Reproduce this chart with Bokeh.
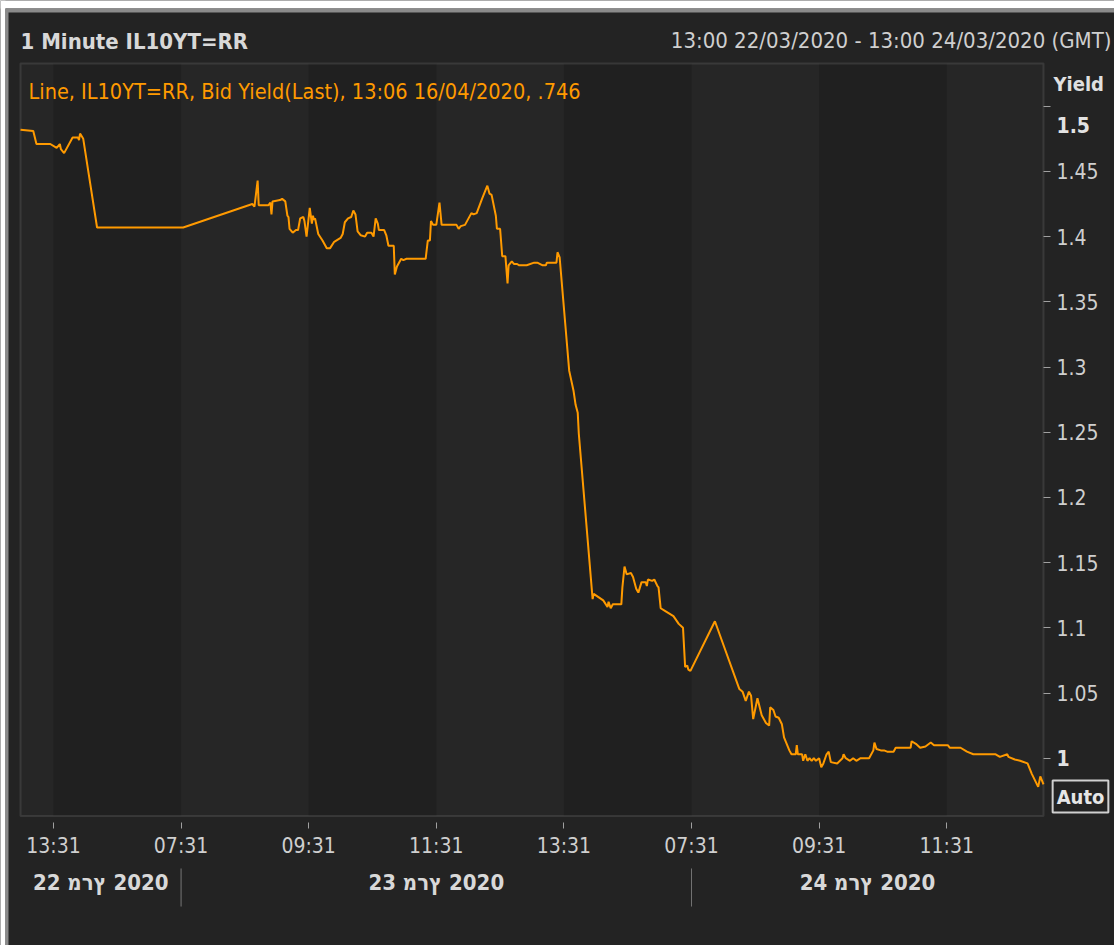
from bokeh.plotting import figure
from bokeh.models import Range1d, LinearAxis, FixedTicker, Label, BoxAnnotation
from bokeh.embed import file_html
from bokeh.resources import INLINE

# ---------------- data ----------------
stamps = [
    "22 13:00", "22 13:12", "22 13:15", "22 13:28", "22 13:34", "22 13:37", "22 13:38", "22 13:41",
    "22 13:49", "22 13:54", "22 13:55", "22 13:56", "22 13:59", "22 14:12",
    "23 07:33", "23 08:38", "23 08:40", "23 08:43", "23 08:44", "23 08:53", "23 08:55", "23 08:56",
    "23 08:57", "23 09:04", "23 09:06", "23 09:09", "23 09:11", "23 09:12", "23 09:13", "23 09:16",
    "23 09:19", "23 09:21", "23 09:23", "23 09:26", "23 09:27", "23 09:29", "23 09:32", "23 09:34",
    "23 09:35", "23 09:36", "23 09:37", "23 09:40", "23 09:44", "23 09:48", "23 09:51", "23 09:55",
    "23 10:01", "23 10:03", "23 10:05", "23 10:08", "23 10:11", "23 10:13", "23 10:15", "23 10:17",
    "23 10:20", "23 10:24", "23 10:26", "23 10:30", "23 10:32", "23 10:34", "23 10:36", "23 10:37",
    "23 10:42", "23 10:44", "23 10:46", "23 10:51", "23 10:52", "23 10:54", "23 10:58", "23 11:00",
    "23 11:03", "23 11:21", "23 11:23", "23 11:25", "23 11:26", "23 11:28", "23 11:31", "23 11:34",
    "23 11:36", "23 11:50", "23 11:52", "23 11:54", "23 11:58", "23 12:04", "23 12:06", "23 12:09",
    "23 12:14", "23 12:19", "23 12:21", "23 12:23", "23 12:27", "23 12:28", "23 12:31", "23 12:33",
    "23 12:36", "23 12:38", "23 12:39", "23 12:42", "23 12:44", "23 12:47", "23 12:49", "23 12:56",
    "23 13:03", "23 13:06", "23 13:11", "23 13:14", "23 13:15", "23 13:24", "23 13:25", "23 13:27",
    "23 13:36", "23 13:40", "23 13:42", "23 13:44", "23 13:45", "23 13:58", "23 13:59", "23 14:08",
    "23 14:12", "23 14:13", "23 14:15", "23 14:17", "23 14:25", "23 14:26", "23 14:28", "23 14:30",
    "23 14:34", "23 14:36", "23 14:39", "23 14:41", "23 14:44", "23 14:48", "23 14:49", "23 14:50",
    "23 14:54", "23 14:56", "23 14:59", "23 15:00", "23 15:02", "23 15:06", "23 15:14", "23 15:19",
    "23 15:23", "23 15:25", "23 15:27", "23 15:28", "23 15:30",
    "24 07:53", "24 08:16", "24 08:19", "24 08:22", "24 08:25", "24 08:27", "24 08:29", "24 08:33",
    "24 08:37", "24 08:41", "24 08:44", "24 08:45", "24 08:48", "24 08:50", "24 08:53", "24 08:56",
    "24 08:58", "24 09:03", "24 09:05", "24 09:09", "24 09:10", "24 09:11", "24 09:15", "24 09:16",
    "24 09:18", "24 09:20", "24 09:22", "24 09:24", "24 09:26", "24 09:28", "24 09:31", "24 09:33",
    "24 09:35", "24 09:38", "24 09:40", "24 09:42", "24 09:48", "24 09:53", "24 09:54", "24 09:56",
    "24 10:00", "24 10:03", "24 10:06", "24 10:10", "24 10:18", "24 10:22", "24 10:23", "24 10:25",
    "24 10:29", "24 10:32", "24 10:35", "24 10:41", "24 10:43", "24 10:57", "24 10:58", "24 11:02",
    "24 11:06", "24 11:11", "24 11:16", "24 11:19", "24 11:32", "24 11:34", "24 11:44", "24 11:50",
    "24 11:56", "24 12:17", "24 12:21", "24 12:28", "24 12:29", "24 12:35", "24 12:40", "24 12:47",
    "24 12:51", "24 12:57", "24 12:59", "24 13:02",
]
yields = [
    1.482, 1.481, 1.471, 1.471, 1.468, 1.471, 1.467, 1.464,
    1.476, 1.476, 1.474, 1.479, 1.475, 1.407,
    1.407, 1.425, 1.423, 1.443, 1.424, 1.424, 1.426, 1.417,
    1.427, 1.428, 1.429, 1.427, 1.416, 1.415, 1.406, 1.403,
    1.405, 1.405, 1.414, 1.415, 1.412, 1.400, 1.422, 1.410,
    1.416, 1.413, 1.414, 1.402, 1.397, 1.391, 1.391, 1.396,
    1.399, 1.402, 1.411, 1.414, 1.415, 1.420, 1.417, 1.404,
    1.401, 1.400, 1.403, 1.403, 1.400, 1.414, 1.410, 1.405,
    1.405, 1.401, 1.393, 1.393, 1.371, 1.377, 1.383, 1.382,
    1.383, 1.383, 1.397, 1.397, 1.412, 1.409, 1.409, 1.426,
    1.409, 1.409, 1.406, 1.408, 1.409, 1.418, 1.417, 1.418,
    1.429, 1.439, 1.433, 1.432, 1.416, 1.406, 1.406, 1.385,
    1.385, 1.364, 1.378, 1.381, 1.379, 1.379, 1.378, 1.378,
    1.380, 1.380, 1.378, 1.378, 1.380, 1.380, 1.388, 1.384,
    1.297, 1.282, 1.271, 1.265, 1.249, 1.122, 1.126, 1.121,
    1.116, 1.120, 1.115, 1.118, 1.118, 1.131, 1.147, 1.141,
    1.142, 1.139, 1.130, 1.127, 1.135, 1.135, 1.132, 1.137,
    1.136, 1.137, 1.132, 1.131, 1.115, 1.113, 1.109, 1.103,
    1.100, 1.070, 1.071, 1.068, 1.067,
    1.105, 1.053, 1.051, 1.044, 1.051, 1.048, 1.030, 1.046,
    1.033, 1.027, 1.025, 1.039, 1.037, 1.032, 1.031, 1.026,
    1.016, 1.006, 1.003, 1.003, 1.010, 1.003, 1.003, 0.998,
    1.003, 0.998, 1.000, 0.998, 1.000, 0.998, 1.000, 0.993,
    0.996, 1.003, 1.005, 0.997, 0.996, 1.000, 1.003, 1.000,
    0.998, 1.000, 0.998, 1.000, 1.000, 1.006, 1.012, 1.007,
    1.006, 1.006, 1.005, 1.005, 1.008, 1.008, 1.013, 1.011,
    1.008, 1.009, 1.012, 1.010, 1.010, 1.008, 1.008, 1.005,
    1.003, 1.003, 1.001, 1.003, 1.001, 0.999, 0.998, 0.996,
    0.988, 0.978, 0.986, 0.980,
]

session_days = ["22", "23", "24"]
session_open = ["13:00", "07:31", "07:31"]
session_close = ["15:31", "15:31", "13:02"]
day_labels = ["22 מרץ 2020", "23 מרץ 2020", "24 מרץ 2020"]

tick_stamps = ["22 13:31", "23 07:31", "23 09:31", "23 11:31",
               "23 13:31", "24 07:31", "24 09:31", "24 11:31"]
tick_labels = ["13:31", "07:31", "09:31", "11:31", "13:31", "07:31", "09:31", "11:31"]
y_ticks = [1.0, 1.05, 1.1, 1.15, 1.2, 1.25, 1.3, 1.35, 1.4, 1.45, 1.5]
y_tick_labels = ["1", "1.05", "1.1", "1.15", "1.2", "1.25", "1.3", "1.35", "1.4", "1.45", "1.5"]
y_bold = [1.0, 1.5]

title_text = "1 Minute IL10YT=RR"
range_text = "13:00 22/03/2020 - 13:00 24/03/2020 (GMT)"
legend_text = "Line, IL10YT=RR, Bid Yield(Last), 13:06 16/04/2020, .746"

# ---------------- trading-time axis (overnight gaps collapsed) ----------------
def mins(hhmm):
    h, m = hhmm.split(":")
    return int(h) * 60 + int(m)

offset = {}
bounds = []
acc = 0
for d, o, c in zip(session_days, session_open, session_close):
    offset[d] = acc - mins(o)
    length = mins(c) - mins(o)
    bounds.append((acc, acc + length))
    acc += length

def idx(stamp):
    d, t = stamp.split()
    return offset[d] + mins(t)

xs = [idx(s) for s in stamps]
tick_x = [idx(s) for s in tick_stamps]

# ---------------- layout (pixels) ----------------
W, H = 1114, 945
PX_L, PX_R = 20, 1043          # pixel x of x-range start / end
PX_Y1, PX_Y0 = 105.7, 757.7    # pixel y of 1.5 / 1.0
FRAME_TOP, FRAME_BOT = 63, 815.5
Y_HI_TICK, Y_LO_TICK = 1.5, 1.0

kx = (PX_R - PX_L) / acc
ky = (PX_Y0 - PX_Y1) / (Y_HI_TICK - Y_LO_TICK)
x_start = -PX_L / kx
x_end = acc + (W - PX_R) / kx
y_top = Y_HI_TICK + PX_Y1 / ky
y_bot = Y_LO_TICK - (H - PX_Y0) / ky
Y_HI = Y_HI_TICK + (PX_Y1 - FRAME_TOP) / ky
Y_LO = Y_LO_TICK - (FRAME_BOT - PX_Y0) / ky

FONT = "DejaVu Sans Condensed, Liberation Sans, sans-serif"
BG = "#232323"
TXT = "#cfcfcf"
ORANGE = "#ff9a00"

p = figure(width=W, height=H, output_backend="svg", toolbar_location=None,
           x_range=Range1d(x_start, x_end), y_range=Range1d(y_bot, y_top),
           x_axis_location=None, y_axis_location=None,
           min_border_left=0, min_border_right=0, min_border_top=0, min_border_bottom=0)
p.background_fill_color = BG
p.border_fill_color = BG
p.outline_line_color = None
p.xgrid.visible = False
p.ygrid.visible = False

# page edge (white margin + gray rim)
def canvas_box(l, r, t, b, color):
    p.add_layout(BoxAnnotation(left=l, right=r, top=t, bottom=b,
                               left_units="canvas", right_units="canvas",
                               top_units="canvas", bottom_units="canvas",
                               fill_color=color, fill_alpha=1, line_alpha=0, level="underlay"))

canvas_box(0, W, 0, 8, "#ffffff")
canvas_box(0, 5, 0, H, "#ffffff")
canvas_box(5, W, 8, 12, "#8a8a8a")
canvas_box(5, 8, 8, H, "#8a8a8a")

# plot area and alternating bands between x ticks
p.add_layout(BoxAnnotation(left=0, right=acc, bottom=Y_LO, top=Y_HI, fill_color="#262626",
                           fill_alpha=1, line_alpha=0, level="underlay"))
edges = [0] + tick_x + [acc]
for i in range(len(edges) - 1):
    if i % 2 == 1:
        p.add_layout(BoxAnnotation(left=edges[i], right=edges[i + 1], bottom=Y_LO, top=Y_HI,
                                   fill_color="#202020", fill_alpha=1, line_alpha=0,
                                   level="underlay"))
p.add_layout(BoxAnnotation(left=0, right=acc, bottom=Y_LO, top=Y_HI, fill_alpha=0,
                           line_color="#6a6a6a", line_width=2, level="underlay"))

p.line(xs, yields, line_color=ORANGE, line_width=2)

# x axis
xaxis = LinearAxis(ticker=FixedTicker(ticks=tick_x, minor_ticks=[]), fixed_location=Y_LO,
                   major_label_overrides={t: l for t, l in zip(tick_x, tick_labels)})
xaxis.axis_line_color = None
xaxis.major_tick_line_color = "#a0a0a0"
xaxis.major_tick_in = -6
xaxis.major_tick_out = 12
xaxis.minor_tick_line_color = None
xaxis.major_label_standoff = 6
xaxis.major_label_text_font = FONT
xaxis.major_label_text_font_size = "21px"
xaxis.major_label_text_color = TXT
p.add_layout(xaxis, "below")

# y axis (right)
yaxis = LinearAxis(ticker=FixedTicker(ticks=y_ticks, minor_ticks=[]), fixed_location=acc,
                   major_label_overrides={t: ("" if t in y_bold else l)
                                          for t, l in zip(y_ticks, y_tick_labels)})
yaxis.axis_line_color = None
yaxis.major_tick_line_color = "#a0a0a0"
yaxis.major_tick_in = 0
yaxis.major_tick_out = 7
yaxis.minor_tick_line_color = None
yaxis.major_label_standoff = 6
yaxis.major_label_text_font = FONT
yaxis.major_label_text_font_size = "21px"
yaxis.major_label_text_color = TXT
p.add_layout(yaxis, "right")

def canvas_label(x, y, text, **kw):
    opts = dict(text_font=FONT, text_font_size="21px", text_color=TXT,
                text_baseline="middle")
    opts.update(kw)
    p.add_layout(Label(x=x, y=y, x_units="canvas", y_units="canvas", text=text, **opts))

# bold tick labels (top label sits below the "Yield" caption)
for t, l in zip(y_ticks, y_tick_labels):
    if t in y_bold:
        y_pos = PX_Y0 - (t - Y_LO_TICK) * ky
        if t == Y_HI_TICK:
            y_pos += 19
        canvas_label(1056, y_pos, l, text_font_style="bold", text_color="#e2e2e2")

canvas_label(20, 41, title_text, text_font_style="bold", text_font_size="22px", text_color="#d8d8d8")
canvas_label(1111, 40, range_text, text_align="right", text_font_size="22px")
canvas_label(28, 91, legend_text, text_color=ORANGE, text_font_size="21.5px")
canvas_label(1053, 83, "Yield", text_font_style="bold", text_font_size="20px", text_color="#e0e0e0")
canvas_label(1080, 796, "Auto", text_font_style="bold", text_font_size="20px", text_color="#e6e6e6",
             text_align="center", border_line_color="#d0d0d0", border_line_width=2, padding=4)

# day labels and day separators
for (a, b), lab in zip(bounds, day_labels):
    p.add_layout(Label(x=(a + b) / 2, y=881.5, x_units="data", y_units="canvas",
                       text="\u202d" + lab + "\u202c", text_font=FONT, text_font_size="22px",
                       text_font_style="bold", text_color="#d8d8d8", text_align="center",
                       text_baseline="middle"))
for a, b in bounds[1:]:
    p.add_layout(BoxAnnotation(left=a, right=a, top=868, bottom=906,
                               top_units="canvas", bottom_units="canvas",
                               fill_alpha=0, line_color="#bdbdbd", line_width=1))

open("out.html", "w").write(file_html(p, INLINE))
